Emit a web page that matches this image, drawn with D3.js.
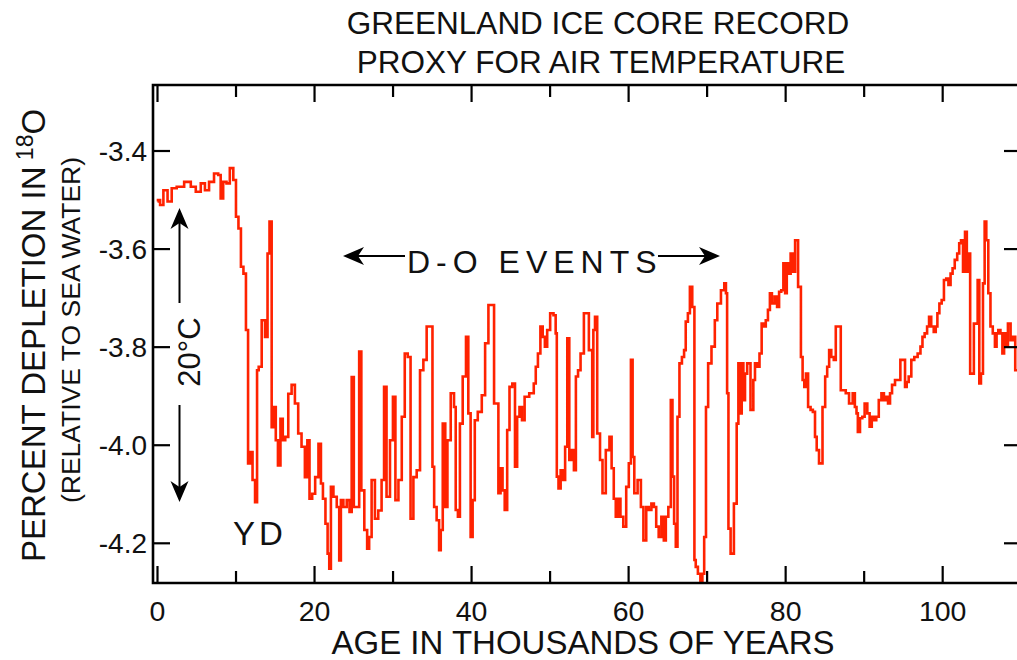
<!DOCTYPE html>
<html>
<head>
<meta charset="utf-8">
<script src="https://cdn.jsdelivr.net/npm/d3@7"></script>
<style>
  body { margin: 0; background: #fff; }
  svg { display: block; }
  text { font-family: "Liberation Sans", Arial, Helvetica, sans-serif; fill: #111; }
</style>
</head>
<body>
<svg width="1017" height="660"></svg>
<script>
// ice core record: [age (kyr), percent depletion in 18O]
var recent = [
  [0.00,-3.503],[0.12,-3.500],[0.54,-3.510],[0.96,-3.480],[1.60,-3.503],[2.02,-3.476],[2.87,-3.473],[3.92,-3.463],
  [4.56,-3.473],[5.19,-3.483],[5.83,-3.466],[6.25,-3.480],[6.88,-3.463],[7.52,-3.446],[7.94,-3.449],[8.15,-3.497],
  [8.58,-3.463],[9.00,-3.466],[9.42,-3.435],[9.89,-3.459],[10.10,-3.534],[10.52,-3.558],[10.73,-3.636],[11.16,-3.650],
  [11.37,-3.765],[11.70,-4.037],[12.00,-4.014],[12.21,-4.071],[12.64,-4.116],[12.72,-3.847],[13.06,-3.840],[13.48,-3.745],
  [13.91,-3.779],[14.12,-3.609],[14.41,-3.544],[14.67,-3.963],[14.96,-3.922],[15.17,-3.990],[15.51,-4.041],[15.81,-3.946],
  [16.10,-3.990],[16.44,-3.983],[16.87,-3.895],[17.29,-3.877],[17.71,-3.915],[18.13,-3.976],[18.56,-4.003],[18.98,-4.065],
  [19.19,-3.990],[19.53,-4.109],[19.87,-4.099],[20.29,-4.065],[20.71,-3.997],[20.92,-4.078],[21.22,-4.109],[21.56,-4.160],
  [21.77,-4.221],[21.98,-4.252],[22.19,-4.085],[22.62,-4.105],[23.04,-4.126],[23.25,-4.235],[23.46,-4.112],[23.89,-4.126],
  [24.31,-4.112],[24.60,-4.136],[24.86,-3.861],[25.15,-4.126],[25.58,-4.126],[25.79,-3.809],[26.13,-4.092],[26.55,-4.173],
  [26.85,-4.211],[27.06,-4.187],[27.48,-4.071],[27.90,-4.150],[28.33,-4.133],[28.75,-4.071],[28.96,-3.881],[29.38,-4.105],
  [29.84,-3.990],[30.13,-3.901],[30.47,-4.112],[30.90,-4.071],[31.32,-3.942],[31.66,-3.813],[32.08,-3.820],[32.38,-4.150],
  [32.80,-4.065],[33.22,-4.051],[33.65,-3.847],[34.07,-3.826],[34.49,-3.758],[34.91,-3.758],[35.13,-4.044],[35.34,-4.126],
  [35.76,-4.153],[35.97,-4.214]
];

var middle = [
  [36.18,-4.173],[36.48,-3.956],[36.82,-4.126],[37.03,-3.990],[37.66,-3.894],[37.87,-3.922],[38.09,-4.132],[38.43,-4.146],
  [38.60,-3.956],[39.14,-3.860],[39.44,-3.779],[39.73,-3.935],[40.03,-4.187],[40.24,-4.112],[40.58,-3.949],[41.00,-3.932],
  [41.60,-3.898],[41.85,-3.792],[42.44,-3.714],[43.29,-3.915],[43.54,-4.098],[43.84,-4.047],[44.05,-4.092],[44.39,-4.132],
  [44.68,-3.969],[44.98,-3.881],[45.40,-3.874],[45.66,-4.044],[45.95,-3.942],[46.25,-3.922],[46.59,-3.949],[46.92,-3.901],
  [47.77,-3.894],[48.07,-3.874],[48.28,-3.840],[48.62,-3.813],[48.91,-3.758],[49.21,-3.779],[49.46,-3.799],[49.80,-3.765],
  [50.22,-3.731],[50.65,-3.735],[50.77,-3.772],[50.94,-4.064],[51.20,-4.088],[51.49,-4.051],[51.79,-4.071],[52.04,-4.003],
  [52.34,-3.782],[52.55,-4.030],[52.89,-4.010],[53.18,-4.051],[53.39,-3.860],[53.73,-3.847],[54.03,-3.813],[54.58,-3.731],
  [55.30,-3.806],[55.43,-3.983],[55.59,-3.765],[55.85,-3.738],[56.15,-3.976],[56.57,-4.030],[56.78,-4.098],[57.41,-4.010],
  [57.71,-3.983],[57.96,-4.047],[58.26,-4.109],[58.47,-4.146],[58.81,-4.109],[59.11,-4.146],[59.53,-4.166],[59.86,-4.085],
  [60.19,-4.037],[60.40,-3.826],[60.62,-4.024],[60.83,-4.098],[61.46,-4.071],[61.67,-4.126],[62.10,-4.194],[62.39,-4.126],
  [62.73,-4.132],[63.07,-4.119],[63.37,-4.126],[63.66,-4.166],[64.00,-4.187],[64.34,-4.146],[64.63,-4.194],[64.85,-4.146],
  [65.27,-4.126],[65.48,-3.908],[65.69,-4.064],[65.90,-4.160],[66.12,-4.207],[66.33,-3.942],[66.62,-3.833],[66.96,-3.820],
  [67.17,-3.806],[67.38,-3.748],[67.72,-3.731],[67.89,-3.677],[68.32,-3.718],[68.44,-4.234],[68.66,-4.248],[68.99,-4.262],
  [69.29,-4.282],[69.50,-4.262],[69.75,-4.187],[69.96,-3.922],[70.30,-3.833],[70.81,-3.799],[71.15,-3.745],[71.44,-3.711],
  [72.08,-3.684],[72.29,-3.670],[72.50,-3.690],[72.59,-3.894],[72.84,-4.170],[73.14,-4.221]
];

var older = [
  [73.68,-4.119],[73.85,-3.956],[74.11,-3.833],[74.28,-3.935],[74.53,-3.833],[74.70,-3.908],[74.95,-3.854],[75.25,-3.833],
  [75.80,-3.928],[75.97,-3.867],[76.22,-3.833],[76.52,-3.840],[76.82,-3.813],[77.07,-3.752],[77.36,-3.758],[77.58,-3.745],
  [77.91,-3.724],[78.08,-3.690],[78.42,-3.711],[78.76,-3.697],[79.06,-3.718],[79.27,-3.687],[79.61,-3.684],[79.81,-3.629],
  [80.06,-3.690],[80.23,-3.629],[80.49,-3.650],[80.78,-3.609],[81.08,-3.646],[81.33,-3.582],[81.84,-3.677],[82.05,-3.820],
  [82.27,-3.867],[82.48,-3.881],[82.69,-3.854],[83.03,-3.922],[83.32,-3.928],[83.61,-3.932],[83.87,-3.983],[84.04,-4.010],
  [84.46,-4.037],[84.93,-3.922],[85.14,-3.860],[85.44,-3.840],[85.64,-3.806],[85.98,-3.820],[86.28,-3.826],[86.49,-3.758],
  [87.55,-3.888],[87.76,-3.894],[88.39,-3.915],[88.69,-3.894],[88.94,-3.922],[89.11,-3.935],[89.28,-3.973],[89.66,-3.945],
  [89.87,-3.942],[90.25,-3.915],[90.55,-3.935],[90.84,-3.962],[91.10,-3.942],[91.39,-3.949],[91.69,-3.942],[92.03,-3.908],
  [92.37,-3.894],[92.66,-3.908],[92.87,-3.901],[93.21,-3.915],[93.38,-3.894],[93.72,-3.877],[94.14,-3.867],[95.08,-3.826],
  [95.33,-3.881],[95.50,-3.871],[95.84,-3.860],[96.17,-3.826],[96.60,-3.820],[97.02,-3.813],[97.32,-3.799],[97.53,-3.779],
  [97.87,-3.772],[98.16,-3.758],[98.37,-3.738],[98.71,-3.758],[99.01,-3.769],[99.22,-3.758],[99.43,-3.731],[99.73,-3.711],
  [100.01,-3.704],[100.31,-3.663],[100.60,-3.660],[100.86,-3.673],[101.15,-3.650],[101.37,-3.639],[101.70,-3.622],[102.00,-3.609],
  [102.21,-3.588],[102.46,-3.582],[102.72,-3.646],[102.97,-3.565],[103.18,-3.646],[103.39,-3.609],[103.61,-3.854],[104.33,-3.752],
  [104.58,-3.663],[104.75,-3.874],[105.00,-3.854],[105.26,-3.670],[105.43,-3.544],[105.68,-3.582],[105.94,-3.690],[106.23,-3.758],
  [106.53,-3.772],[106.78,-3.799],[106.95,-3.772],[107.21,-3.765],[107.50,-3.772],[107.71,-3.813],[107.93,-3.772],[108.14,-3.799],
  [108.48,-3.752],[108.82,-3.786],[109.11,-3.779],[109.37,-3.847],[110.00,-3.860]
];

var xTicks = [0,10,20,30,40,50,60,70,80,90,100,110];
var xLabels = [0,20,40,60,80,100];
var yTicks = [-3.4,-3.6,-3.8,-4.0,-4.2];

var svg = d3.select("svg");

var plotLeft = 153, plotRight = 1021, plotTop = 85, plotBottom = 583;

var x = d3.scaleLinear().domain([0, 110]).range([157.5, 1021.2]);
var y = d3.scaleLinear().domain([-4.2, -3.4]).range([543.3, 151]);

var data = recent.concat(middle, older);

svg.append("clipPath").attr("id", "plot")
  .append("rect")
  .attr("x", plotLeft).attr("y", plotTop)
  .attr("width", plotRight - plotLeft).attr("height", plotBottom - plotTop);

var line = d3.line()
  .x(function(d) { return x(d[0]); })
  .y(function(d) { return y(d[1]); })
  .curve(d3.curveStep);

svg.append("path")
  .datum(data)
  .attr("clip-path", "url(#plot)")
  .attr("fill", "none")
  .attr("stroke", "#ff2200")
  .attr("stroke-width", 2.6)
  .attr("d", line);

// frame
svg.append("path")
  .attr("fill", "none")
  .attr("stroke", "#000")
  .attr("stroke-width", 2.6)
  .attr("d", "M" + plotRight + "," + plotTop + "H" + plotLeft + "V" + plotBottom + "H" + plotRight + "V" + plotTop);

// ticks, all pointing inward
var tickG = svg.append("g").attr("stroke", "#000").attr("stroke-width", 2.2);
xTicks.forEach(function(t) {
  var len = (t % 20 === 0) ? 17 : 12;
  tickG.append("line").attr("x1", x(t)).attr("x2", x(t)).attr("y1", plotBottom).attr("y2", plotBottom - len);
  tickG.append("line").attr("x1", x(t)).attr("x2", x(t)).attr("y1", plotTop).attr("y2", plotTop + len);
});
yTicks.forEach(function(t) {
  tickG.append("line").attr("x1", plotLeft).attr("x2", plotLeft + 17).attr("y1", y(t)).attr("y2", y(t));
  tickG.append("line").attr("x1", plotRight).attr("x2", plotRight - 17).attr("y1", y(t)).attr("y2", y(t));
});

svg.selectAll(".xlab")
  .data(xLabels)
  .enter().append("text")
  .attr("class", "xlab")
  .attr("x", function(d) { return x(d); })
  .attr("y", 621)
  .attr("text-anchor", "middle")
  .attr("font-size", 28.5)
  .text(function(d) { return d; });

svg.selectAll(".ylab")
  .data(yTicks)
  .enter().append("text")
  .attr("class", "ylab")
  .attr("x", 147)
  .attr("y", function(d) { return y(d) + 10; })
  .attr("text-anchor", "end")
  .attr("font-size", 28)
  .text(function(d) { return d3.format(".1f")(d).replace("−", "-"); });

// titles
svg.append("text").attr("x", 598).attr("y", 34).attr("text-anchor", "middle")
  .attr("font-size", 31.5).text("GREENLAND ICE CORE RECORD");
svg.append("text").attr("x", 601).attr("y", 73).attr("text-anchor", "middle")
  .attr("font-size", 31.5).text("PROXY FOR AIR TEMPERATURE");

svg.append("text").attr("x", 583).attr("y", 654).attr("text-anchor", "middle")
  .attr("font-size", 33).text("AGE IN THOUSANDS OF YEARS");

var yt = svg.append("text")
  .attr("transform", "translate(45,562) rotate(-90)")
  .attr("font-size", 33);
yt.append("tspan").text("PERCENT DEPLETION IN");
yt.append("tspan").attr("font-size", 23).attr("dy", -12).text(" 18");
yt.append("tspan").attr("dy", 12).text("O");

svg.append("text")
  .attr("transform", "translate(80,330) rotate(-90)")
  .attr("text-anchor", "middle")
  .attr("font-size", 26.5)
  .text("(RELATIVE TO SEA WATER)");

// arrows
function head(g, tx, ty, angle) {
  g.append("path")
    .attr("transform", "translate(" + tx + "," + ty + ") rotate(" + angle + ")")
    .attr("d", "M0,0L-21,-9L-15,0L-21,9Z")
    .attr("fill", "#000");
}
var ann = svg.append("g");
ann.append("line").attr("x1", 348).attr("x2", 405).attr("y1", 256).attr("y2", 256)
  .attr("stroke", "#000").attr("stroke-width", 2);
ann.append("line").attr("x1", 658).attr("x2", 715).attr("y1", 256).attr("y2", 256)
  .attr("stroke", "#000").attr("stroke-width", 2);
head(ann, 343, 256, 180);
head(ann, 720, 256, 0);
ann.append("text").attr("x", 407).attr("y", 273).attr("font-size", 32)
  .attr("letter-spacing", 6).text("D-O EVENTS");

ann.append("line").attr("x1", 179.5).attr("x2", 179.5).attr("y1", 215).attr("y2", 303)
  .attr("stroke", "#000").attr("stroke-width", 2);
ann.append("line").attr("x1", 179.5).attr("x2", 179.5).attr("y1", 405).attr("y2", 495)
  .attr("stroke", "#000").attr("stroke-width", 2);
head(ann, 179.5, 208, -90);
head(ann, 179.5, 502, 90);
ann.append("text")
  .attr("transform", "translate(200,352) rotate(-90)")
  .attr("text-anchor", "middle")
  .attr("font-size", 31)
  .text("20°C");

ann.append("text").attr("x", 233).attr("y", 545).attr("font-size", 33)
  .attr("letter-spacing", 4).text("YD");
</script>
</body>
</html>
